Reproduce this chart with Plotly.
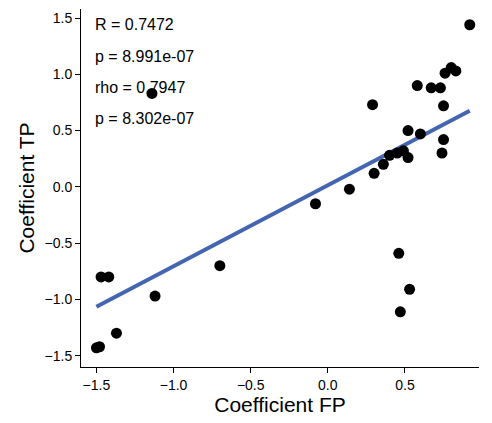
import numpy as np
import plotly.graph_objects as go

coef_fp = [-1.50, -1.48, -1.47, -1.42, -1.37, -1.14, -1.12, -0.70, -0.08, 0.14,
           0.29, 0.30, 0.36, 0.40, 0.45, 0.49, 0.52, 0.46, 0.47, 0.53,
           0.58, 0.60, 0.52, 0.67, 0.73, 0.75, 0.75, 0.74, 0.76, 0.80, 0.83, 0.92]
coef_tp = [-1.43, -1.42, -0.80, -0.80, -1.30, 0.83, -0.97, -0.70, -0.15, -0.02,
           0.73, 0.12, 0.20, 0.28, 0.30, 0.32, 0.26, -0.59, -1.11, -0.91,
           0.90, 0.47, 0.50, 0.88, 0.88, 0.72, 0.42, 0.30, 1.01, 1.06, 1.03, 1.44]
stats_text = ["R = 0.7472", "p = 8.991e-07", "rho = 0.7947", "p = 8.302e-07"]

slope, intercept = np.polyfit(coef_fp, coef_tp, 1)
line_x = [min(coef_fp), max(coef_fp)]
line_y = [slope * v + intercept for v in line_x]

fig = go.Figure()
fig.add_trace(go.Scatter(x=line_x, y=line_y, mode="lines",
                         line=dict(color="#4466b0", width=4)))
fig.add_trace(go.Scatter(x=coef_fp, y=coef_tp, mode="markers",
                         marker=dict(color="black", size=11)))

for i, t in enumerate(stats_text):
    fig.add_annotation(x=0.03, y=0.985 - i * 0.087, xref="paper", yref="paper",
                       text=t, showarrow=False, xanchor="left", yanchor="top",
                       font=dict(size=16, color="black"))

axis_style = dict(showgrid=False, zeroline=False, showline=True, linecolor="black",
                  linewidth=1, ticks="outside", ticklen=5, tickcolor="black",
                  tickfont=dict(size=14, color="black"),
                  title_font=dict(size=21, color="black"))
fig.update_xaxes(range=[-1.60, 0.98], tickvals=[-1.5, -1.0, -0.5, 0.0, 0.5],
                 ticktext=["\u22121.5", "\u22121.0", "\u22120.5", "0.0", "0.5"],
                 title_text="Coefficient FP", title_standoff=4, **axis_style)
fig.update_yaxes(range=[-1.60, 1.58], tickvals=[-1.5, -1.0, -0.5, 0.0, 0.5, 1.0, 1.5],
                 ticktext=["\u22121.5", "\u22121.0", "\u22120.5", "0.0", "0.5", "1.0", "1.5"],
                 title_text="Coefficient TP", title_standoff=4, **axis_style)
fig.update_layout(width=492, height=423, plot_bgcolor="white", paper_bgcolor="white",
                  showlegend=False, font=dict(family="Liberation Sans, Arial"),
                  margin=dict(l=73, r=21, t=1, b=64))
fig.write_html("out.html")
